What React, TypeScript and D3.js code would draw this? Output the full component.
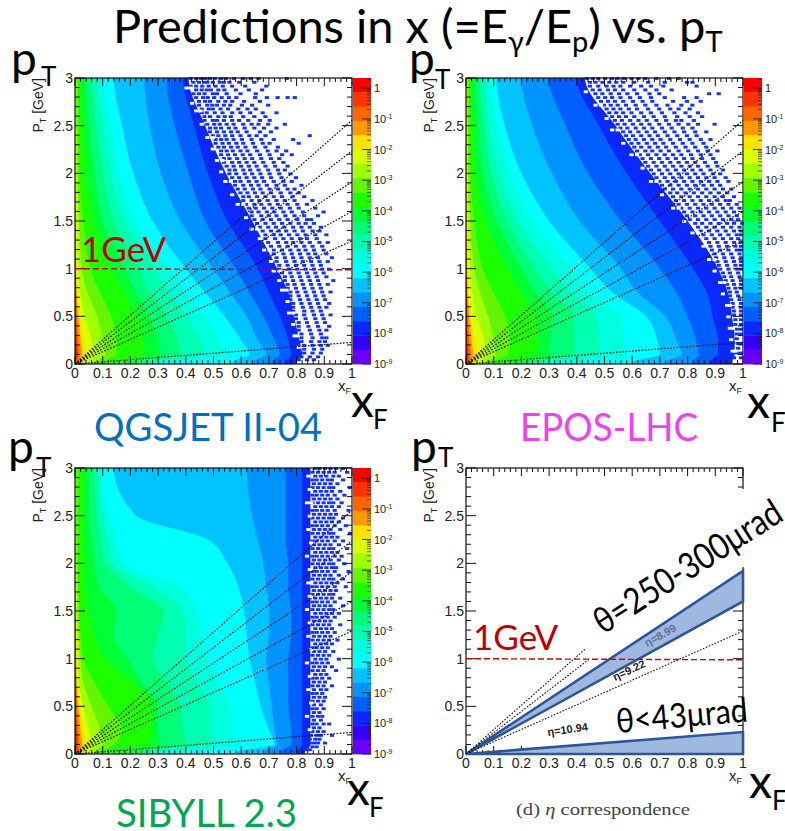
import React from "react";
import * as d3 from "d3";

// colour bands of the z axis, top of the palette first
const bandColors = ["#ff0000","#ff3300","#ff6600","#ff9900","#ffe100","#d9ff00","#a0ff00","#66f500","#1cff00","#00ff33","#00ff77","#00ffb0","#00ffdd","#00ffff","#00c3ff","#0094ff","#0060ff","#0a28ff","#3300ff","#6600ff"];
const zTicks = [1,1e-1,1e-2,1e-3,1e-4,1e-5,1e-6,1e-7,1e-8,1e-9];
const xLabels = [0,0.1,0.2,0.3,0.4,0.5,0.6,0.7,0.8,0.9,1];
const yLabels = [0,0.5,1,1.5,2,2.5,3];
const etaSlopes = [2.557,2.235,1.91,1.6,1.29,0.227];

const coreRows = [0.02,0.1,0.25,0.5,0.75,1,1.5,2,2.5,3];
// bands 4..0: right edge in xF at each coreRows pT
const coreEdges = [
  [0.03,0.04,0.033,0.018,0.01,0.007,0.005,0.003,0.002,0.002],
  [0.02,0.026,0.02,0.012,0.006,0.004,0.002,0,0,0],
  [0.013,0.016,0.012,0.007,0.004,0.002,0,0,0,0],
  [0.008,0.01,0.007,0.004,0.002,0,0,0,0,0],
  [0.004,0.005,0.003,0.002,0,0,0,0,0,0],
];

const qgsRows = coreRows;
// bands 17..5, right edge in xF at each row
const qgsEdges = [
  [0.80,0.82,0.81,0.79,0.77,0.73,0.64,0.545,0.47,0.41],
  [0.76,0.78,0.77,0.74,0.70,0.66,0.55,0.48,0.43,0.39],
  [0.71,0.74,0.72,0.68,0.63,0.58,0.47,0.41,0.36,0.33],
  [0.64,0.69,0.66,0.62,0.56,0.50,0.38,0.31,0.27,0.25],
  [0.57,0.63,0.60,0.54,0.47,0.40,0.28,0.21,0.17,0.14],
  [0.38,0.54,0.52,0.47,0.40,0.34,0.22,0.16,0.13,0.10],
  [0.30,0.46,0.45,0.40,0.34,0.29,0.18,0.13,0.10,0.08],
  [0.26,0.38,0.37,0.33,0.27,0.23,0.14,0.10,0.075,0.06],
  [0.22,0.31,0.30,0.27,0.22,0.18,0.10,0.07,0.05,0.04],
  [0.16,0.25,0.25,0.22,0.18,0.13,0.07,0.04,0.03,0.02],
  [0.10,0.15,0.15,0.13,0.09,0.055,0.03,0.015,0.012,0.01],
  [0.08,0.11,0.10,0.08,0.045,0.025,0.015,0.008,0.006,0.005],
  [0.05,0.07,0.06,0.035,0.018,0.012,0.008,0.005,0.004,0.003],
];

const eposRows = coreRows;
const eposEdges = [
  [0.96,0.97,0.97,0.96,0.945,0.91,0.80,0.665,0.54,0.43],
  [0.88,0.91,0.91,0.89,0.87,0.82,0.70,0.58,0.48,0.40],
  [0.82,0.84,0.83,0.80,0.76,0.70,0.56,0.44,0.36,0.30],
  [0.72,0.78,0.76,0.72,0.62,0.56,0.41,0.31,0.24,0.20],
  [0.60,0.70,0.69,0.65,0.53,0.45,0.30,0.20,0.14,0.11],
  [0.40,0.58,0.57,0.56,0.45,0.38,0.24,0.16,0.11,0.09],
  [0.30,0.48,0.48,0.47,0.38,0.31,0.19,0.12,0.085,0.07],
  [0.26,0.39,0.39,0.39,0.31,0.25,0.15,0.09,0.065,0.05],
  [0.22,0.30,0.30,0.31,0.25,0.20,0.11,0.06,0.045,0.035],
  [0.16,0.25,0.26,0.25,0.20,0.15,0.07,0.035,0.025,0.02],
  [0.10,0.15,0.16,0.14,0.10,0.06,0.03,0.015,0.012,0.01],
  [0.08,0.11,0.10,0.08,0.05,0.03,0.015,0.008,0.006,0.005],
  [0.05,0.07,0.065,0.04,0.022,0.014,0.008,0.005,0.004,0.003],
];

const sibRows = [0.02,0.1,0.25,0.5,0.75,1,1.25,1.5,1.75,2,2.25,2.5,3];
const sibEdges = [
  [0.83,0.85,0.85,0.85,0.85,0.85,0.85,0.85,0.85,0.85,0.85,0.85,0.85],
  [0.80,0.82,0.82,0.82,0.82,0.82,0.82,0.82,0.82,0.82,0.82,0.82,0.82],
  [0.74,0.78,0.78,0.77,0.77,0.77,0.78,0.78,0.77,0.77,0.76,0.76,0.76],
  [0.68,0.73,0.72,0.71,0.70,0.69,0.70,0.70,0.69,0.68,0.66,0.64,0.62],
  [0.58,0.72,0.70,0.67,0.65,0.63,0.62,0.61,0.59,0.55,0.48,0.22,0.14],
  [0.40,0.58,0.57,0.56,0.52,0.48,0.46,0.44,0.38,0.18,0.15,0.12,0.10],
  [0.30,0.50,0.49,0.49,0.44,0.40,0.40,0.39,0.28,0.14,0.12,0.10,0.085],
  [0.26,0.40,0.39,0.38,0.33,0.28,0.30,0.32,0.20,0.11,0.09,0.08,0.07],
  [0.22,0.31,0.30,0.30,0.24,0.19,0.14,0.15,0.09,0.07,0.06,0.05,0.05],
  [0.16,0.27,0.28,0.28,0.21,0.11,0.07,0.05,0.04,0.035,0.03,0.03,0.03],
  [0.10,0.14,0.17,0.12,0.07,0.03,0.02,0.015,0.012,0.01,0.01,0.01,0.01],
  [0.07,0.10,0.09,0.06,0.03,0.02,0.012,0.01,0.008,0.006,0.005,0.004,0.004],
  [0.05,0.06,0.05,0.03,0.014,0.01,0.008,0.006,0.005,0.004,0.003,0.003,0.003],
];

// isolated bins outside the solid region: [pT, xF, xF, ...]
const qgsFringe: number[][] = [
  [2.98,.41,.43,.447,.462,.48,.497,.521,.538,.566,.6,.627,.655,.757],
  [2.94,.42,.44,.458,.47,.49,.515,.53,.55,.585,.64],
  [2.9,.41,.43,.452,.475,.5,.526,.56,.607,.683],
  [2.86,.43,.45,.468,.483,.51,.532,.573,.62,.668],
  [2.82,.42,.44,.46,.49,.505,.54,.59,.645],
  [2.78,.43,.455,.472,.495,.522,.548,.575,.643,.685,.724,.76,.786],
  [2.74,.44,.462,.48,.51,.535,.56,.603,.66],
  [2.7,.44,.47,.488,.505,.53,.553,.595,.632,.69],
  [2.66,.45,.475,.49,.518,.545,.582,.615,.645],
  [2.62,.45,.468,.497,.525,.56,.59,.625,.67,.72],
  [2.58,.46,.48,.51,.533,.555,.6,.64,.68],
  [2.54,.46,.49,.505,.53,.56,.585,.618,.66,.695],
  [2.5,.47,.495,.515,.54,.565,.6,.63,.655,.69,.75],
  [2.46,.48,.5,.52,.548,.572,.605,.64,.675,.72],
  [2.42,.48,.505,.53,.556,.58,.612,.66,.7],
  [2.38,.49,.51,.535,.56,.59,.622,.648,.68,.84],
  [2.34,.5,.52,.54,.565,.595,.63,.665,.71,.78],
  [2.3,.5,.525,.548,.575,.6,.635,.67,.695,.8],
  [2.26,.51,.53,.556,.58,.608,.642,.68,.725],
  [2.22,.52,.54,.562,.59,.615,.65,.688,.72,.755],
  [2.18,.52,.545,.57,.598,.625,.66,.695,.74,.775],
  [2.14,.53,.55,.578,.605,.632,.665,.7,.73],
  [2.1,.53,.56,.585,.612,.64,.672,.71,.745],
  [2.06,.54,.565,.592,.62,.648,.68,.715,.76],
  [2.02,.55,.57,.6,.625,.655,.69,.725,.75],
  [1.98,.55,.575,.605,.632,.662,.695,.73,.77],
  [1.94,.56,.585,.612,.64,.668,.7,.738,.79],
  [1.9,.57,.59,.62,.648,.675,.71,.745,.775],
  [1.86,.57,.6,.628,.655,.685,.72,.75,.81],
  [1.82,.58,.605,.635,.662,.695,.725,.76,.785],
  [1.78,.59,.615,.642,.67,.7,.735,.77,.8],
  [1.74,.6,.62,.65,.68,.71,.74,.778,.82],
  [1.7,.6,.63,.658,.688,.72,.75,.785,.85],
  [1.66,.61,.64,.665,.695,.725,.76,.795,.83],
  [1.62,.62,.645,.675,.705,.735,.768,.8,.86],
  [1.58,.63,.655,.685,.712,.745,.775,.815,.89],
  [1.54,.63,.665,.692,.72,.752,.785,.82,.87],
  [1.5,.64,.67,.7,.73,.76,.795,.83,.845],
  [1.46,.65,.68,.71,.74,.77,.8,.825,.855],
  [1.42,.66,.69,.718,.748,.78,.81,.84,.88],
  [1.38,.67,.7,.728,.755,.785,.815,.85,.875],
  [1.34,.68,.71,.735,.765,.795,.825,.86,.9],
  [1.3,.68,.715,.745,.775,.805,.83,.865],
  [1.26,.69,.725,.755,.78,.81,.84,.875,.905],
  [1.22,.7,.73,.76,.79,.82,.85,.885],
  [1.18,.71,.74,.77,.8,.825,.855,.89],
  [1.14,.71,.745,.775,.805,.835,.86,.9],
  [1.1,.72,.75,.78,.81,.84,.87,.92],
  [1.06,.72,.755,.785,.815,.845,.875,.905],
  [1.02,.73,.76,.79,.82,.85,.88],
  [.98,.73,.765,.795,.825,.855,.885,.91],
  [.94,.74,.77,.8,.83,.86,.89],
  [.9,.75,.775,.805,.835,.865,.9],
  [.86,.75,.78,.81,.84,.87,.925],
  [.82,.76,.785,.815,.845,.875,.905],
  [.78,.76,.79,.82,.85,.88],
  [.74,.77,.795,.825,.855,.885,.915],
  [.7,.77,.8,.83,.86,.89],
  [.66,.77,.805,.835,.865,.895],
  [.62,.78,.81,.84,.87,.91],
  [.58,.78,.815,.845,.875,.9],
  [.54,.78,.82,.85,.88],
  [.5,.79,.82,.855,.885,.915],
  [.46,.79,.825,.86,.89],
  [.42,.8,.83,.865,.895],
  [.38,.8,.835,.87,.91],
  [.34,.8,.84,.875,.9],
  [.3,.81,.845,.88],
  [.26,.81,.85,.885,.9],
  [.22,.81,.845,.875,.895],
  [.18,.82,.85,.88,.905],
  [.14,.82,.855,.885],
  [.1,.82,.85,.88],
  [.06,.81,.84,.87],
  [.03,.8,.83,.855],
];

const eposFringe: number[][] = [
  [2.98,.43,.45,.47,.495,.52,.54,.563,.59,.615,.64,.68,.725,.76],
  [2.94,.44,.46,.485,.51,.535,.56,.6,.65,.71,.79,.81],
  [2.9,.44,.47,.5,.525,.55,.585,.625,.66,.705,.825],
  [2.86,.45,.475,.505,.53,.56,.6,.64,.68,.735],
  [2.82,.46,.485,.515,.545,.575,.61,.655,.69,.87,.905],
  [2.78,.47,.495,.52,.55,.585,.62,.66,.71,.78,.825],
  [2.74,.48,.505,.53,.56,.595,.63,.665,.74,.79,.84],
  [2.7,.49,.515,.54,.57,.605,.64,.68,.72,.77,.81],
  [2.66,.5,.525,.55,.58,.61,.65,.69,.73,.76,.8],
  [2.62,.51,.535,.56,.59,.625,.66,.7,.745,.785,.83],
  [2.58,.52,.545,.57,.6,.635,.67,.71,.755,.8,.845],
  [2.54,.53,.555,.585,.615,.645,.68,.715,.75,.77,.815],
  [2.5,.54,.565,.595,.625,.655,.69,.725,.76,.795,.83,.89],
  [2.46,.55,.575,.605,.635,.665,.7,.735,.775,.81],
  [2.42,.56,.585,.615,.645,.675,.71,.745,.78,.82,.86],
  [2.38,.57,.595,.625,.655,.685,.72,.755,.79,.825],
  [2.34,.58,.605,.635,.665,.695,.73,.765,.8,.84,.875],
  [2.3,.59,.615,.645,.675,.705,.74,.775,.81,.85],
  [2.26,.6,.625,.655,.685,.715,.75,.785,.82,.86],
  [2.22,.61,.64,.665,.695,.725,.76,.795,.83,.865,.9],
  [2.18,.62,.65,.68,.71,.74,.77,.805,.84,.875],
  [2.14,.63,.66,.69,.72,.75,.78,.81,.845,.885],
  [2.1,.64,.67,.7,.73,.76,.79,.82,.855,.895],
  [2.06,.65,.68,.71,.74,.77,.8,.83,.865,.9],
  [2.02,.66,.69,.72,.75,.78,.81,.84,.875,.92],
  [1.98,.67,.7,.73,.76,.79,.82,.85,.885,.91],
  [1.94,.68,.71,.74,.77,.8,.83,.86,.89,.93],
  [1.9,.69,.72,.75,.78,.81,.84,.87,.9,.94],
  [1.86,.7,.73,.76,.79,.82,.85,.88,.91],
  [1.82,.71,.74,.77,.8,.83,.86,.89,.92,.95],
  [1.78,.73,.755,.785,.815,.845,.875,.905,.935],
  [1.74,.74,.77,.8,.83,.86,.89,.92,.96],
  [1.7,.75,.78,.81,.84,.87,.9,.93,.945],
  [1.66,.76,.79,.82,.85,.88,.91,.94,.97],
  [1.62,.77,.8,.83,.86,.89,.92,.95,.98],
  [1.58,.78,.81,.84,.87,.9,.93,.96],
  [1.54,.79,.82,.85,.88,.91,.94,.97],
  [1.5,.8,.83,.86,.89,.92,.95,.975],
  [1.46,.82,.845,.875,.905,.935,.96,.99],
  [1.42,.83,.86,.89,.92,.95,.98],
  [1.38,.84,.87,.9,.93,.96,.985],
  [1.34,.85,.88,.91,.94,.97,.985],
  [1.3,.86,.89,.92,.95,.975],
  [1.26,.87,.9,.93,.96,.985],
  [1.22,.875,.905,.935,.965,.985],
  [1.18,.88,.91,.94,.97,.985],
  [1.14,.89,.92,.95,.98],
  [1.1,.895,.925,.955,.985],
  [1.06,.9,.93,.96,.985],
  [1.02,.905,.935,.965,.985],
  [.98,.91,.94,.97,.985],
  [.94,.92,.945,.975],
  [.9,.925,.95,.98],
  [.86,.93,.955,.985],
  [.82,.935,.96,.985],
  [.78,.94,.965,.985],
  [.74,.945,.97],
  [.7,.945,.975],
  [.66,.95,.98],
  [.62,.955,.985],
  [.58,.955,.985],
  [.54,.96,.985],
  [.5,.96,.985],
  [.45,.965,.985],
  [.4,.965,.985],
  [.35,.97,.985],
  [.3,.97,.985],
  [.25,.97],
  [.2,.975,.985],
  [.15,.975],
  [.1,.97,.985],
  [.05,.96,.985],
];

const sibFringe: number[][] = [
  [2.98,.86,.875,.895,.915,.935,.96],
  [2.94,.85,.87,.89,.91,.93,.975],
  [2.9,.86,.88,.9,.925,.945],
  [2.86,.85,.865,.885,.905,.92,.96],
  [2.82,.855,.875,.895,.915,.94],
  [2.78,.85,.87,.89,.91,.925,.985],
  [2.74,.86,.88,.9,.92,.95],
  [2.7,.85,.865,.885,.905,.93,.965],
  [2.66,.855,.875,.895,.915,.94],
  [2.62,.85,.87,.89,.91,.925,.955],
  [2.58,.86,.88,.9,.92,.945],
  [2.54,.85,.865,.885,.905,.93,.98],
  [2.5,.855,.875,.895,.915,.935],
  [2.46,.85,.87,.89,.91,.925,.96],
  [2.42,.86,.88,.9,.92,.945],
  [2.38,.85,.865,.885,.905,.93,.97],
  [2.34,.855,.875,.895,.915,.95],
  [2.3,.85,.87,.89,.91,.925,.985],
  [2.26,.86,.88,.9,.92,.94],
  [2.22,.85,.865,.885,.905,.93,.96],
  [2.18,.855,.875,.895,.915,.945],
  [2.14,.85,.87,.89,.91,.925,.975],
  [2.1,.86,.88,.9,.92,.94],
  [2.06,.85,.865,.885,.905,.93,.955],
  [2.02,.855,.875,.895,.915,.945],
  [1.98,.85,.87,.89,.91,.925,.965],
  [1.94,.86,.88,.9,.92,.935],
  [1.9,.85,.865,.885,.905,.93,.98],
  [1.86,.855,.875,.895,.915,.945],
  [1.82,.85,.87,.89,.91,.925,.96],
  [1.78,.86,.88,.9,.92,.94],
  [1.74,.85,.865,.885,.905,.93,.97],
  [1.7,.855,.875,.895,.915,.935],
  [1.66,.85,.87,.89,.91,.925],
  [1.62,.86,.88,.9,.92,.95],
  [1.58,.85,.865,.885,.905,.93],
  [1.54,.855,.875,.895,.915,.96],
  [1.5,.85,.87,.89,.91,.925],
  [1.46,.86,.88,.9,.92,.945],
  [1.42,.85,.865,.885,.905,.93],
  [1.38,.855,.875,.895,.915],
  [1.34,.85,.87,.89,.91,.95],
  [1.3,.86,.88,.9,.92],
  [1.26,.85,.865,.885,.905,.93],
  [1.22,.855,.875,.895,.915],
  [1.18,.85,.87,.89,.91,.94],
  [1.14,.86,.88,.9,.92],
  [1.1,.85,.865,.885,.905],
  [1.06,.855,.875,.895,.925],
  [1.02,.85,.87,.89,.91],
  [.98,.86,.88,.9,.945],
  [.94,.85,.865,.885,.905],
  [.9,.855,.875,.895,.92],
  [.86,.85,.87,.89,.935],
  [.82,.86,.88,.9],
  [.78,.85,.865,.885,.91],
  [.74,.855,.875,.895],
  [.7,.85,.87,.89,.92],
  [.66,.855,.88,.9],
  [.62,.85,.865,.885],
  [.58,.855,.875,.895],
  [.54,.85,.87,.89],
  [.5,.855,.88],
  [.46,.85,.865,.89],
  [.42,.855,.875],
  [.38,.85,.87,.885],
  [.34,.855,.88],
  [.3,.85,.865,.89,.91],
  [.26,.855,.875],
  [.22,.85,.87,.89],
  [.18,.845,.865,.88,.92],
  [.14,.84,.86,.875],
  [.1,.84,.855,.87,.895],
  [.06,.83,.85,.865],
  [.03,.825,.84],
];

// white holes in the speckled edge: [pT, xF, xF, ...]
const qgsHoles: number[][] = [
  [2.88,.395,.41],[2.72,.415],[2.64,.43,.445],[2.5,.45],[2.36,.47,.49],[2.24,.49],[2.12,.505,.525],
  [2,.52],[1.9,.535,.555],[1.76,.56],[1.66,.58,.6],[1.52,.61],[1.4,.63,.65],[1.3,.66],[1.18,.675,.695],
  [1.06,.7],[.96,.71,.73],[.86,.73],[.76,.74,.755],[.64,.76],[.52,.765,.78],[.4,.78],[.28,.785,.795],[.16,.8],
];
const eposHoles: number[][] = [
  [2.84,.425],[2.7,.46,.48],[2.56,.5],[2.44,.52,.54],[2.3,.56],[2.18,.59,.61],[2.04,.63],[1.9,.66,.68],
  [1.76,.7],[1.62,.74,.76],[1.48,.78],[1.36,.81,.83],[1.22,.85],[1.08,.87,.89],[.96,.89],[.84,.91,.925],
  [.72,.92],[.6,.935,.945],[.48,.94],[.36,.945,.955],[.24,.95],[.12,.955,.965],
];
const sibHoles: number[][] = [
  [2.9,.835],[2.76,.84],[2.62,.83,.845],[2.48,.84],[2.34,.835],[2.2,.845],[2.06,.83],[1.92,.84],[1.78,.835,.845],
  [1.64,.84],[1.5,.83],[1.36,.84],[1.22,.835],[1.08,.845],[.94,.83],[.8,.84],[.66,.835],[.52,.845],[.38,.83],[.24,.84],
];

// panel 4: opening angle bands, pT at xF = 1
const wideBand = [1.92,1.6];
const narrowBand = [0.23,0];
const sketchDotted = [[0.43,2.557],[0.448,2.235],[1,1.29]];

const W = 277;
const H = 286;
const BIN_X = 0.015;
const BIN_Y = 0.03;
const FONT = "Liberation Sans, Arial, sans-serif";
const BIG = "Lato, sans-serif";

const x0 = d3.scaleLinear().domain([0, 1]).range([0, W]);
const y0 = d3.scaleLinear().domain([0, 3]).range([H, 0]);
const z = d3.scaleLog().domain([1e-9, Math.pow(10, 0.335)]).range([H, 0]);

function Frame() {
  const minorX = d3.range(0, 51).map((d) => d * 0.02);
  const minorY = d3.range(0, 31).map((d) => d * 0.1);
  return (
    <g stroke="#111" strokeWidth={1} fill="none">
      <rect x={0} y={0} width={W} height={H} strokeWidth={1.2} />
      {minorX.map((d, i) => {
        const len = i % 5 === 0 ? 8 : 4;
        return (
          <g key={"x" + i}>
            <line x1={x0(d)} x2={x0(d)} y1={H} y2={H - len} />
            <line x1={x0(d)} x2={x0(d)} y1={0} y2={len} />
          </g>
        );
      })}
      {minorY.map((d, i) => {
        const len = i % 5 === 0 ? 10 : 5;
        return (
          <g key={"y" + i}>
            <line y1={y0(d)} y2={y0(d)} x1={0} x2={len} />
            <line y1={y0(d)} y2={y0(d)} x1={W} x2={W - len} />
          </g>
        );
      })}
    </g>
  );
}

function AxisText() {
  return (
    <g fontFamily={FONT} fontSize={14} fill="#222">
      {xLabels.map((d) => (
        <text key={d} x={x0(d)} y={H + 14} textAnchor="middle">{d}</text>
      ))}
      {yLabels.map((d) => (
        <text key={d} x={-2} y={y0(d) + 5} textAnchor="end">{d}</text>
      ))}
      <text transform={`translate(-32,0) rotate(-90)`} textAnchor="end" fontSize={14}>
        P<tspan fontSize={9} dy={3}>T</tspan><tspan dy={-3}> [GeV]</tspan>
      </text>
      <text x={W - 1} y={H + 27} textAnchor="end" fontSize={15}>
        x<tspan fontSize={9} dy={3}>F</tspan>
      </text>
    </g>
  );
}

function ColorBar() {
  const bandH = H / bandColors.length;
  const logMinor = d3.range(0, 10).flatMap((e) =>
    d3.range(2, 10).map((m) => m * Math.pow(10, -e)).filter((v) => v >= 1e-9 && v < 2.1)
  );
  return (
    <g transform={`translate(${W + 1},0)`}>
      {bandColors.map((c, i) => (
        <rect key={c} x={0} y={i * bandH} width={18} height={bandH + 0.4} fill={c} />
      ))}
      {logMinor.map((v) => (
        <line key={v} x1={18} x2={14} y1={z(v)} y2={z(v)} stroke="#222" strokeWidth={0.7} />
      ))}
      {zTicks.map((v, i) => (
        <g key={v}>
          <line x1={18} x2={9} y1={z(v)} y2={z(v)} stroke="#222" strokeWidth={0.9} />
          <text x={21} y={z(v) + 4} fontFamily={FONT} fontSize={11} fill="#222">
            {i === 0 ? "1" : "10"}
            {i > 0 && <tspan fontSize={7} dy={-4}>{"-" + i}</tspan>}
          </text>
        </g>
      ))}
    </g>
  );
}

function Heat({ rows, edges, fringe, holes }: { rows: number[]; edges: number[][]; fringe: number[][]; holes: number[][] }) {
  const area = (pts: number[], r: number[]) =>
    d3
      .area<number>()
      .curve(d3.curveMonotoneY)
      .y((_, i) => y0(r[i]))
      .x0(0)
      .x1((d) => x0(d))(pts) as string;
  const rowsFull = (e: number[], r: number[]) => {
    // the first and last rows are pushed out to the frame
    const rr = [0, ...r, 3.001];
    const ee = [e[0], ...e, e[e.length - 1]];
    return area(ee, rr);
  };
  const cell = (row: number[], fill: string) =>
    row.slice(1).map((v) => (
      <rect key={fill + row[0] + "-" + v} x={x0(v)} y={y0(row[0] + BIN_Y)} width={x0(BIN_X)} height={H - y0(BIN_Y)} fill={fill} />
    ));
  return (
    <g>
      {fringe.map((r) => cell(r, "#1432ff"))}
      {edges.map((e, i) => (
        <path key={i} d={rowsFull(e, rows)} fill={bandColors[17 - i]} />
      ))}
      {coreEdges.map((e, i) => (
        <path key={"c" + i} d={rowsFull(e, coreRows)} fill={bandColors[4 - i]} />
      ))}
      {holes.map((r) => cell(r, "#ffffff"))}
    </g>
  );
}

function EtaLines() {
  const line = d3.line<number[]>().x((d) => x0(d[0])).y((d) => y0(d[1]));
  return (
    <g fill="none" stroke="#111" strokeWidth={1.2} strokeDasharray="1.6 1.6">
      {etaSlopes.map((s) => (
        <path key={s} d={line([[0, 0], [1, s]]) as string} />
      ))}
    </g>
  );
}

function OneGeV({ x, y }: { x: number; y: number }) {
  return (
    <g>
      <line x1={x0(0)} x2={x0(1)} y1={y0(1)} y2={y0(0.988)} stroke="#d40000" strokeWidth={1.4} strokeDasharray="6 3" />
      <text x={x} y={y} fontFamily={BIG} fontSize={35} fill="#c00000">1GeV</text>
    </g>
  );
}

function SketchPanel() {
  const poly = d3.line<number[]>().x((d) => x0(d[0])).y((d) => y0(d[1]));
  return (
    <g>
      <Frame />
      <rect x={W - 11} y={y0(2.78)} width={14} height={y0(1.96) - y0(2.78)} fill="#fff" />
      <path d={(poly([[0, 0], [1, wideBand[0]], [1, wideBand[1]]]) as string) + "Z"} fill="#9fb8e0" stroke="#2f5597" strokeWidth={2.6} />
      <path d={(poly([[0, 0], [1, narrowBand[0]], [1, narrowBand[1]]]) as string) + "Z"} fill="#9fb8e0" stroke="#2f5597" strokeWidth={2.6} />
      <g fill="none" stroke="#111" strokeWidth={1.1} strokeDasharray="1.6 1.6">
        {sketchDotted.map((d) => (
          <path key={d[1]} d={poly([[0, 0], [d[0], d[0] * d[1]]]) as string} />
        ))}
      </g>
      <AxisText />
      <OneGeV x={7} y={182} />
      <g fontFamily={FONT} fontSize={11} fontWeight="bold">
        <text transform={`translate(181,179) rotate(-29)`} fill="#5f7399">{"\u03B7=8.99"}</text>
        <text transform={`translate(149,213) rotate(-25)`} fill="#222">{"\u03B7=9.22"}</text>
        <text transform={`translate(82,268) rotate(-8)`} fill="#222">{"\u03B7=10.94"}</text>
      </g>
      <text transform={`translate(137,167) rotate(-32.4)`} fontFamily={BIG} fontSize={36} fill="#000" textLength={216} lengthAdjust="spacingAndGlyphs">{"\u03B8=250-300\u03BCrad"}</text>
      <text transform={`translate(151,265) rotate(-5)`} fontFamily={BIG} fontSize={34} fill="#000" textLength={132} lengthAdjust="spacingAndGlyphs">{"\u03B8<43\u03BCrad"}</text>
    </g>
  );
}

function BigSym({ a, b, ax, ay, bx, by }: { a: string; b: string; ax: number; ay: number; bx: number; by: number }) {
  return (
    <g fontFamily={BIG} fill="#000">
      <text x={ax} y={ay} fontSize={46}>{a}</text>
      <text x={bx} y={by} fontSize={26}>{b}</text>
    </g>
  );
}

export default function App() {
  return (
    <svg width={785} height={831} style={{ position: "absolute", left: 0, top: 0, background: "#fff" }}>
      <text x={113} y={43} fontFamily={BIG} fontSize={47} fill="#000">
        Predictions in x (=E<tspan fontSize={29} dy={9}>{"\u03B3"}</tspan>
        <tspan dy={-9}>/E</tspan><tspan fontSize={29} dy={9}>p</tspan>
        <tspan dy={-9}>) vs. p</tspan><tspan fontSize={29} dy={9}>T</tspan>
      </text>

      <g transform="translate(75,78)">
        <Heat rows={qgsRows} edges={qgsEdges} fringe={qgsFringe} holes={qgsHoles} />
        <EtaLines />
        <Frame />
        <ColorBar />
        <AxisText />
        <OneGeV x={6} y={184} />
      </g>
      <g transform="translate(466,78)">
        <Heat rows={eposRows} edges={eposEdges} fringe={eposFringe} holes={eposHoles} />
        <EtaLines />
        <Frame />
        <ColorBar />
        <AxisText />
      </g>
      <g transform="translate(75,468)">
        <Heat rows={sibRows} edges={sibEdges} fringe={sibFringe} holes={sibHoles} />
        <EtaLines />
        <Frame />
        <ColorBar />
        <AxisText />
      </g>
      <g transform="translate(466,468)">
        <SketchPanel />
      </g>

      <BigSym a="p" b="T" ax={11} ay={75} bx={41} by={86} />
      <BigSym a="p" b="T" ax={409} ay={75} bx={435} by={89} />
      <BigSym a="p" b="T" ax={8} ay={463} bx={36} by={477} />
      <BigSym a="p" b="T" ax={411} ay={463} bx={438} by={467} />
      <BigSym a="x" b="F" ax={351} ay={417} bx={373} by={429} />
      <BigSym a="x" b="F" ax={747} ay={418} bx={771} by={432} />
      <BigSym a="x" b="F" ax={347} ay={805} bx={369} by={817} />
      <BigSym a="x" b="F" ax={749} ay={798} bx={772} by={810} />

      <g fontFamily={BIG} fontSize={39}>
        <text x={94} y={441} fill="#0070c0" textLength={228} lengthAdjust="spacingAndGlyphs">QGSJET II-04</text>
        <text x={520} y={441} fill="#f040f0" textLength={178} lengthAdjust="spacingAndGlyphs">EPOS-LHC</text>
        <text x={116} y={827} fill="#00a651" textLength={181} lengthAdjust="spacingAndGlyphs">SIBYLL 2.3</text>
      </g>
      <text x={516} y={815} fontFamily="Liberation Serif, serif" fontSize={17} fill="#444" textLength={174} lengthAdjust="spacingAndGlyphs">
        (d) <tspan fontStyle="italic">{"\u03B7"}</tspan> correspondence
      </text>
    </svg>
  );
}
